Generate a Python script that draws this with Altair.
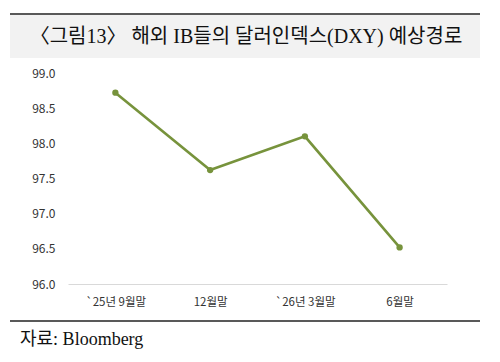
import altair as alt
import pandas as pd

categories = ["`25년 9월말", "12월말", "`26년 3월말", "6월말"]
dxy_values = [98.72, 97.62, 98.10, 96.52]
y_ticks = [96.0, 96.5, 97.0, 97.5, 98.0, 98.5, 99.0]
title_text = "〈그림13〉 해외 IB들의 달러인덱스(DXY) 예상경로"
source_text = "자료: Bloomberg"

df = pd.DataFrame({"period": categories, "value": dxy_values})

W, H = 379, 211
GREEN = "#77933C"
SERIF = "Liberation Serif, Noto Sans CJK KR"
SANS = "Noto Sans CJK KR, Noto Sans"

x_enc = alt.X("period:N", sort=categories,
              scale=alt.Scale(type="point", padding=0.5),
              axis=alt.Axis(title=None, labelAngle=0, ticks=False,
                            domainColor="#d9d9d9", domainWidth=1,
                            labelFont=SANS, labelFontSize=11.5, labelColor="#333333",
                            labelPadding=12, grid=False))
y_enc = alt.Y("value:Q",
              scale=alt.Scale(domain=[96, 99], nice=False, zero=False),
              axis=alt.Axis(title=None, values=y_ticks, format=".1f", ticks=False,
                            domain=False, grid=False, labelFont=SANS,
                            labelFontSize=12, labelColor="#333333", labelPadding=13))

line = alt.Chart(df).mark_line(color=GREEN, strokeWidth=2.6).encode(x=x_enc, y=y_enc)
pts = alt.Chart(df).mark_point(color=GREEN, filled=True, opacity=1, size=40).encode(x=x_enc, y=y_enc)

one = pd.DataFrame({"t": [title_text]})
band = alt.Chart(one).mark_rect(color="#f2f2f2").encode(
    x=alt.value(-58), x2=alt.value(412), y=alt.value(-58), y2=alt.value(-15))
top_rule = alt.Chart(one).mark_rule(color="#222222", strokeWidth=1.5).encode(
    x=alt.value(-58), x2=alt.value(412), y=alt.value(-59))
title = alt.Chart(one).mark_text(font=SERIF, fontSize=20, color="#111111",
                                 align="center", baseline="middle").encode(
    x=alt.value(178), y=alt.value(-36), text="t:N")

src = pd.DataFrame({"t": [source_text]})
bottom_rule = alt.Chart(src).mark_rule(color="#222222", strokeWidth=1.5).encode(
    x=alt.value(-58), x2=alt.value(412), y=alt.value(248))
source = alt.Chart(src).mark_text(font=SERIF, fontSize=18, color="#111111",
                                  align="left", baseline="middle").encode(
    x=alt.value(-48), y=alt.value(267), text="t:N")

chart = alt.layer(band, top_rule, title, line, pts, bottom_rule, source).properties(
    width=W, height=H,
    autosize=alt.AutoSizeParams(type="none"),
    padding={"left": 60, "top": 65, "right": 45, "bottom": 70},
    background="white",
).configure_view(stroke=None)

chart.save("out.html", embed_options={"renderer": "svg", "actions": False})
